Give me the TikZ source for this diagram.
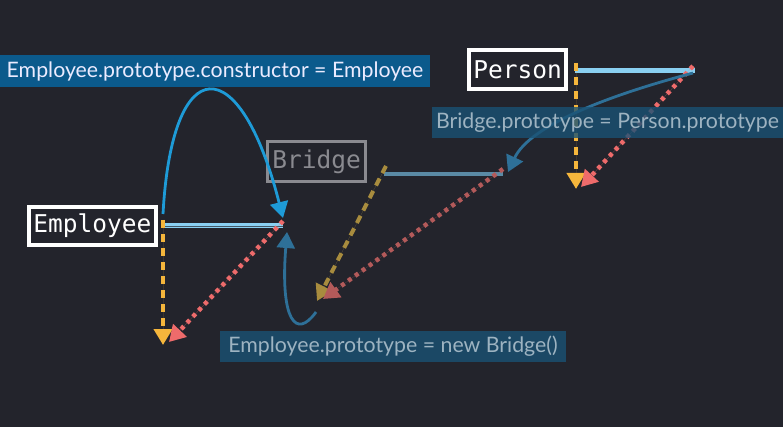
\documentclass[tikz,border=0pt]{standalone}
\usepackage{fontspec}
\setmainfont{Lato}
\newfontfamily\codefont{DejaVu Sans Mono}
\usetikzlibrary{arrows.meta}
\definecolor{bgc}{HTML}{23242C}
\definecolor{capbox}{HTML}{0B5A8C}
\definecolor{dimbox}{HTML}{1A5274}
\definecolor{dimtext}{HTML}{9DB3C1}
\definecolor{lblue}{HTML}{8AD0F2}
\definecolor{bline}{HTML}{5A8AA5}
\definecolor{ylw}{HTML}{F5B63C}
\definecolor{dylw}{HTML}{A88C3E}
\definecolor{rd}{HTML}{EE6B6B}
\definecolor{drd}{HTML}{B35A5A}
\definecolor{bblue}{HTML}{1E9BD7}
\definecolor{dblue}{HTML}{2E7098}
\definecolor{grayb}{HTML}{8A8A90}
\tikzset{
  objbox/.style={draw=white, line width=4pt, fill=bgc, text=white, font=\codefont\fontsize{24.5}{26}\selectfont, inner sep=0pt, minimum width=127pt, minimum height=38pt},
  dimobj/.style={objbox, draw=grayb, text=grayb, line width=3pt, minimum width=98pt, minimum height=40pt},
  pobj/.style={objbox, minimum width=97pt, minimum height=39pt},
  caption/.style={fill=capbox, text=white!92!blue, font=\fontsize{21.3}{23}\selectfont, inner sep=0pt, minimum height=32pt},
  dimcap/.style={fill=dimbox, fill opacity=0.8, text opacity=1, text=dimtext, font=\fontsize{21.3}{23}\selectfont, inner sep=0pt, minimum height=31pt},
  tip/.style={-{Triangle[length=16pt,width=18pt]}},
  ydash/.style={tip, draw=ylw, fill=ylw, line width=4pt, dash pattern=on 8pt off 6pt},
  rdot/.style={tip, draw=rd, fill=rd, line width=4.5pt, dash pattern=on 4pt off 4.5pt},
  protoline/.style={draw=lblue, line width=5pt},
  curv/.style={-{Triangle[length=16pt,width=18pt]}, line width=2.8pt}
}
\begin{document}
\begin{tikzpicture}[x=1pt,y=-1pt]
\fill[bgc] (0,0) rectangle (783,427);
\useasboundingbox (0,0) rectangle (783,427);
% object nodes
\node[objbox] (emp) at (92.5,226) {Employee};
\node[dimobj] (bri) at (316.5,161.5) {Bridge};
\node[pobj] (per) at (517.5,69.5) {Person};
% coordinates of prototype lines
\coordinate (eL) at (163,226);
\coordinate (eR) at (283,226);
\coordinate (bL) at (384,174);
\coordinate (bR) at (503,174);
\coordinate (pL) at (575,71);
\coordinate (pR) at (695,71);
\coordinate (eY) at (163,345);
\coordinate (eR2) at (169,342);
\coordinate (bY) at (317,301);
\coordinate (bR2) at (323,299);
\coordinate (pY) at (576,189);
\coordinate (pR2) at (581,187);
% prototype lines
\draw[protoline] (eL) -- (eR);
\draw[draw=bgc!70!lblue, line width=0.7pt] (eL) -- (eR);
\draw[draw=bline, line width=3.5pt] (bL) -- (bR);
\draw[protoline] (pL) -- (pR);
% yellow dashed
\draw[ydash] ([yshift=6pt]eL) -- (eY);
\draw[ydash] ([yshift=8pt,xshift=1pt]pL) -- (pY);
\draw[ydash, draw=dylw, fill=dylw] ([yshift=8pt,xshift=2pt]bL) -- (bY);
% red dotted
\draw[rdot] ([yshift=5pt]eR) -- (eR2);
\draw[rdot] ([yshift=5pt,xshift=-2pt]pR) -- (pR2);
\draw[rdot, draw=drd, fill=drd] ([yshift=5pt]bR) -- (bR2);
% curves
\draw[curv, draw=bblue, fill=none] (163,214) .. controls (172,49) and (240,49) .. (283,218);
\draw[curv, draw=dblue] (693,73) .. controls (610,95) and (530,125) .. (508,172);
\draw[curv, draw=dblue] (316,312) .. controls (296,340) and (280,320) .. (287,232);
% captions
\node[caption, minimum width=430pt] (c1) at (215,71) {Employee.prototype.constructor = Employee};
\node[dimcap, minimum width=351pt] (c2) at (607.5,122.5) {Bridge.prototype = Person.prototype};
\node[dimcap, minimum width=346pt] (c3) at (393,346.5) {Employee.prototype = new Bridge()};
\end{tikzpicture}
\end{document}
